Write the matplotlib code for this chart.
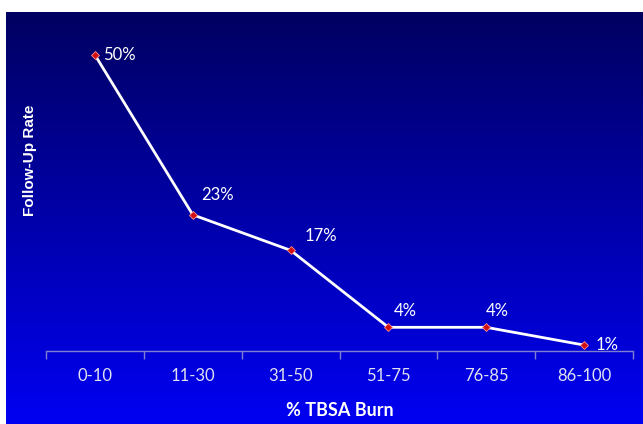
import numpy as np
import matplotlib.pyplot as plt

categories = ["0-10", "11-30", "31-50", "51-75", "76-85", "86-100"]
follow_up = [50, 23, 17, 4, 4, 1]
labels = ["50%", "23%", "17%", "4%", "4%", "1%"]
# label offsets in points (dx, dy)
offsets = [(6, 0), (6, 14), (10, 10), (4, 12), (0, 12), (8, 0)]

fig = plt.figure(figsize=(6.43, 4.24), dpi=100)
fig.patch.set_facecolor("white")

# gradient background panel
bg = fig.add_axes([6 / 643, 0, 637 / 643, 412 / 424])
grad = np.linspace(0, 1, 256)[:, None]
top = np.array([0.0, 0.0, 0.38])
bottom = np.array([0.0, 0.0, 0.95])
img = top + (bottom - top) * grad[..., None]
bg.imshow(img, aspect="auto", extent=[0, 1, 0, 1], origin="upper")
bg.axis("off")

ax = fig.add_axes([46 / 643, 73 / 424, 587 / 643, 321 / 424])
ax.patch.set_alpha(0)
x = np.arange(len(categories))
ax.plot(x, follow_up, color="white", lw=2, zorder=3)
ax.plot(x, follow_up, ls="none", marker="D", ms=4.5, mfc="#d01010",
        mec="#ff9090", mew=0.6, zorder=4)
for xi, yi, lab, (dx, dy) in zip(x, follow_up, labels, offsets):
    ax.annotate(lab, (xi, yi), xytext=(dx, dy), textcoords="offset points",
                color="white", fontsize=12, fontfamily="Lato",
                ha="left", va="center")

ax.set_xlim(-0.5, len(categories) - 0.5)
ax.set_ylim(0, 54.2)
ax.set_xticks(np.arange(-0.5, len(categories)), minor=False)
ax.set_xticklabels([])
ax.set_xticks(x, minor=True)
ax.set_xticklabels(categories, minor=True, color="#e0e0f0", fontsize=12,
                   fontfamily="Lato")
ax.tick_params(axis="x", which="major", length=6, color="#8080d0", width=1)
ax.tick_params(axis="x", which="minor", length=0, pad=12)
ax.set_yticks([])
for side in ["top", "right", "left"]:
    ax.spines[side].set_visible(False)
ax.spines["bottom"].set_color("#8080d0")
ax.spines["bottom"].set_linewidth(1)

fig.text(340 / 643, 1 - 411 / 424, "% TBSA Burn", color="white",
         fontsize=13, fontweight="bold", fontfamily="Lato",
         ha="center", va="center")
fig.text(30 / 643, 1 - 160 / 424, "Follow-Up Rate", color="white",
         fontsize=11, fontweight="bold", fontfamily="Liberation Sans",
         rotation=90, ha="center", va="center")

fig.savefig("out.png", dpi=100)
